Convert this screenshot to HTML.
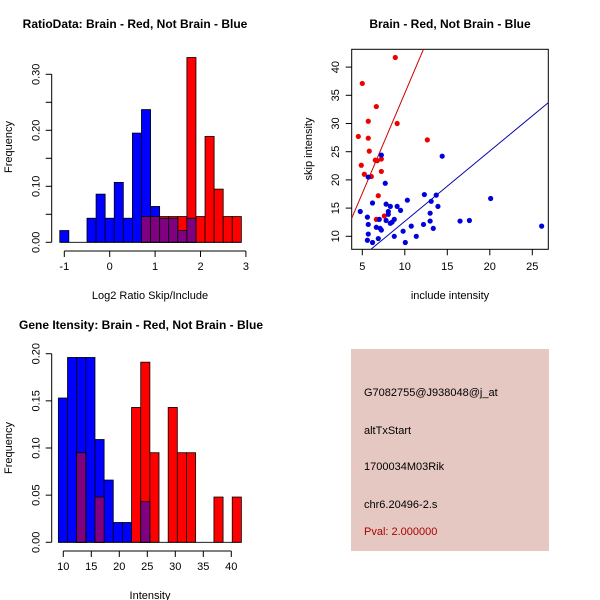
<!DOCTYPE html>
<html><head><meta charset="utf-8"><style>
html,body{margin:0;padding:0;background:#fff}
svg{display:block;font-family:"Liberation Sans",sans-serif}
</style></head><body>
<svg id="chart" width="600" height="600" viewBox="0 0 600 600">
<rect x="0" y="0" width="600" height="600" fill="#fff"/>
<g id="p1"></g>
<g id="p2"></g>
<g id="p3"></g>
<g id="p4">
<rect x="351" y="349" width="198" height="202" fill="#e6c8c3"/>
<text x="364" y="396" font-size="11" fill="#000">G7082755@J938048@j_at</text>
<text x="364" y="434" font-size="11" fill="#000">altTxStart</text>
<text x="364" y="470" font-size="11" fill="#000">1700034M03Rik</text>
<text x="364" y="508" font-size="11" fill="#000">chr6.20496-2.s</text>
<text x="364" y="535" font-size="11" fill="#aa0000">Pval: 2.000000</text>
</g>
</svg>
<script>
// Panel 1: log2 ratio histogram (bins of 0.2 from -1.1)
const ratioBinStart = -1.1;
const ratioBinWidth = 0.2;
const ratioBlue = [0.021,0,0,0.043,0.086,0.043,0.107,0.043,0.195,0.237,0.064,0.043,0.043,0.021,0.043,0,0,0,0,0];
const ratioRed  = [0,0,0,0,0,0,0,0,0,0.046,0.046,0.046,0.046,0.046,0.330,0.046,0.189,0.095,0.046,0.046];
const ratioXTicks = [-1,0,1,2,3];
const ratioYTicks = [0,0.05,0.1,0.15,0.2,0.25,0.3];
const ratioYLabels = ["0.00","","0.10","","0.20","","0.30"];

// Panel 2: scatter
const redX = [8.88,5.0,6.65,5.7,9.1,4.53,5.7,12.65,5.82,6.53,6.76,7.24,4.88,7.24,5.24,6.06,6.88,6.65,7.59];
const redY = [41.7,37.1,33.0,30.4,30.0,27.7,27.4,27.1,25.1,23.5,23.4,23.7,22.6,21.5,21.0,20.6,17.2,13.0,13.6];
const blueX = [7.24,14.4,5.7,7.7,6.2,4.76,7.8,8.3,9.1,9.5,10.3,12.3,13.7,13.1,13.9,20.1,8.06,8.06,5.6,7.0,7.8,8.76,8.3,8.5,12.98,12.98,12.2,10.76,16.5,17.6,26.1,5.7,6.65,7.1,7.24,13.35,9.8,5.7,8.76,11.35,5.6,6.88,6.2,10.06];
const blueY = [24.4,24.2,20.5,19.4,15.9,14.4,15.7,15.3,15.3,14.6,16.4,17.4,17.3,16.2,15.3,16.7,14.4,13.9,13.4,13.0,12.8,13.0,12.3,12.5,14.1,12.7,12.1,11.8,12.7,12.8,11.8,12.1,11.6,11.4,11.1,11.4,10.9,10.4,10.0,10.0,9.3,9.6,8.9,8.9];
const redFit = [-0.13, 3.55];
const blueFit = [0.2, 1.246];
const scatXTicks = [5,10,15,20,25];
const scatYTicks = [10,15,20,25,30,35,40];

// Panel 3: intensity histogram
const intBinStart = 9.12;
const intBinWidth = 1.634;
const intBlue = [0.153,0.196,0.196,0.196,0.109,0.066,0.021,0.021,0,0.043,0,0,0,0,0,0,0,0,0,0];
const intRed  = [0,0,0.095,0,0.048,0,0,0,0.143,0.191,0.095,0,0.143,0.095,0.095,0,0,0.048,0,0.048];
const intXTicks = [10,15,20,25,30,35,40];
const intYTicks = [0,0.05,0.1,0.15,0.2];
const intYLabels = ["0.00","0.05","0.10","0.15","0.20"];

const NS = "http://www.w3.org/2000/svg";
function mk(parent, tag, attrs, text){
  const e = document.createElementNS(NS, tag);
  for (const k in attrs) e.setAttribute(k, attrs[k]);
  if (text !== undefined) e.textContent = text;
  parent.appendChild(e);
  return e;
}
function txt(parent, x, y, s, opts, name){
  const t = mk(parent, 'text', Object.assign({x:x, y:y, 'font-size':11, 'text-anchor':'middle', fill:'#000'}, opts||{}), s);
  
  
  return t;
}
function bar(g, xs, ys, start, w, i, v, fill, name){
  const x0 = xs(start+i*w), x1 = xs(start+(i+1)*w);
  const r = mk(g,'rect',{x:x0,y:ys(v),width:x1-x0,height:ys(0)-ys(v),fill:fill,stroke:'#000','stroke-width':0.8});
  
  
}
function hist(g, xs, ys, start, w, blue, red, xTicks, yTicks, yLabels, axX, axY){
  for (let i=0;i<blue.length;i++){
    if (blue[i] > 0) bar(g, xs, ys, start, w, i, blue[i], '#0000ff', 'blue-bar');
  }
  for (let i=0;i<red.length;i++){
    if (red[i] > 0) bar(g, xs, ys, start, w, i, red[i], '#ff0000', 'red-bar');
  }
  for (let i=0;i<red.length;i++){
    const m = Math.min(red[i], blue[i]);
    if (m > 0) bar(g, xs, ys, start, w, i, m, '#7f0080', 'overlap-bar');
  }
  const ya = mk(g,'line',{x1:axX,x2:axX,y1:ys(yTicks[0]),y2:ys(yTicks[yTicks.length-1]),stroke:'#000'});
  
  
  yTicks.forEach((v,i)=>{
    mk(g,'line',{x1:axX-6,x2:axX,y1:ys(v),y2:ys(v),stroke:'#000'});
    if (yLabels[i]) txt(g, 0, 0, yLabels[i], {transform:`translate(${axX-12},${ys(v)}) rotate(-90)`}, 'y-tick-label');
  });
  const xa = mk(g,'line',{x1:xs(xTicks[0]),x2:xs(xTicks[xTicks.length-1]),y1:axY,y2:axY,stroke:'#000'});
  
  
  xTicks.forEach(v=>{
    mk(g,'line',{x1:xs(v),x2:xs(v),y1:axY,y2:axY+6,stroke:'#000'});
    txt(g, xs(v), axY+19, String(v), {}, 'x-tick-label');
  });
}

// Panel 1
(function(){
  const g = document.getElementById('p1');
  const xs = v => 64.3 + (v+1)*45.4;
  const ys = v => 242.3 - v*560;
  hist(g, xs, ys, ratioBinStart, ratioBinWidth, ratioBlue, ratioRed, ratioXTicks, ratioYTicks, ratioYLabels, 51.7, 251);
  mk(g,'line',{x1:xs(-1.1),x2:xs(2.9),y1:ys(0),y2:ys(0),stroke:'#000','stroke-width':0.8});
  txt(g, 135, 28, 'RatioData: Brain - Red, Not Brain - Blue', {'font-weight':'bold','font-size':12}, 'title');
  txt(g, 150, 299, 'Log2 Ratio Skip/Include', {}, 'x-axis-title');
  txt(g, 0, 0, 'Frequency', {transform:'translate(12,147) rotate(-90)'}, 'y-axis-title');
})();

// Panel 2
(function(){
  const g = document.getElementById('p2');
  const xs = v => 362.3 + (v-5)*8.5;
  const ys = v => 236.3 - (v-10)*5.64;
  const box = mk(g,'rect',{x:351.7,y:49.3,width:196.6,height:200,fill:'none',stroke:'#000'});
  
  
  const cp = mk(g,'clipPath',{id:'clip2'});
  mk(cp,'rect',{x:351.7,y:49.3,width:196.6,height:200});
  const lg = mk(g,'g',{'clip-path':'url(#clip2)'});
  const x0 = 0, x1 = 30;
  const rl = mk(lg,'line',{x1:xs(x0),y1:ys(redFit[0]+redFit[1]*x0),x2:xs(x1),y2:ys(redFit[0]+redFit[1]*x1),stroke:'#cc0000'});
  
  
  const bl = mk(lg,'line',{x1:xs(x0),y1:ys(blueFit[0]+blueFit[1]*x0),x2:xs(x1),y2:ys(blueFit[0]+blueFit[1]*x1),stroke:'#0000aa'});
  
  
  redX.forEach((v,i)=>{
    const c = mk(g,'circle',{cx:xs(v),cy:ys(redY[i]),r:2.6,fill:'#ee0000'});
    
    
  });
  blueX.forEach((v,i)=>{
    const c = mk(g,'circle',{cx:xs(v),cy:ys(blueY[i]),r:2.6,fill:'#0000dd'});
    
    
  });
  scatYTicks.forEach(v=>{
    mk(g,'line',{x1:345.7,x2:351.7,y1:ys(v),y2:ys(v),stroke:'#000'});
    txt(g,0,0,String(v),{transform:`translate(339,${ys(v)}) rotate(-90)`},'y-tick-label');
  });
  scatXTicks.forEach(v=>{
    mk(g,'line',{x1:xs(v),x2:xs(v),y1:249.3,y2:255.3,stroke:'#000'});
    txt(g,xs(v),270,String(v),{},'x-tick-label');
  });
  txt(g, 450, 28, 'Brain - Red, Not Brain - Blue', {'font-weight':'bold','font-size':12}, 'title');
  txt(g, 450, 299, 'include intensity', {}, 'x-axis-title');
  txt(g, 0, 0, 'skip intensity', {transform:'translate(312,149) rotate(-90)'}, 'y-axis-title');
})();

// Panel 3
(function(){
  const g = document.getElementById('p3');
  const xs = v => 63.3 + (v-10)*5.6;
  const ys = v => 542.3 - v*943;
  hist(g, xs, ys, intBinStart, intBinWidth, intBlue, intRed, intXTicks, intYTicks, intYLabels, 51.7, 551);
  mk(g,'line',{x1:xs(intBinStart),x2:xs(intBinStart+20*intBinWidth),y1:ys(0),y2:ys(0),stroke:'#000','stroke-width':0.8});
  txt(g, 141, 329, 'Gene Itensity: Brain - Red, Not Brain - Blue', {'font-weight':'bold','font-size':12}, 'title');
  txt(g, 150, 599, 'Intensity', {}, 'x-axis-title');
  txt(g, 0, 0, 'Frequency', {transform:'translate(12,448) rotate(-90)'}, 'y-axis-title');
})();
</script>
</body></html>
